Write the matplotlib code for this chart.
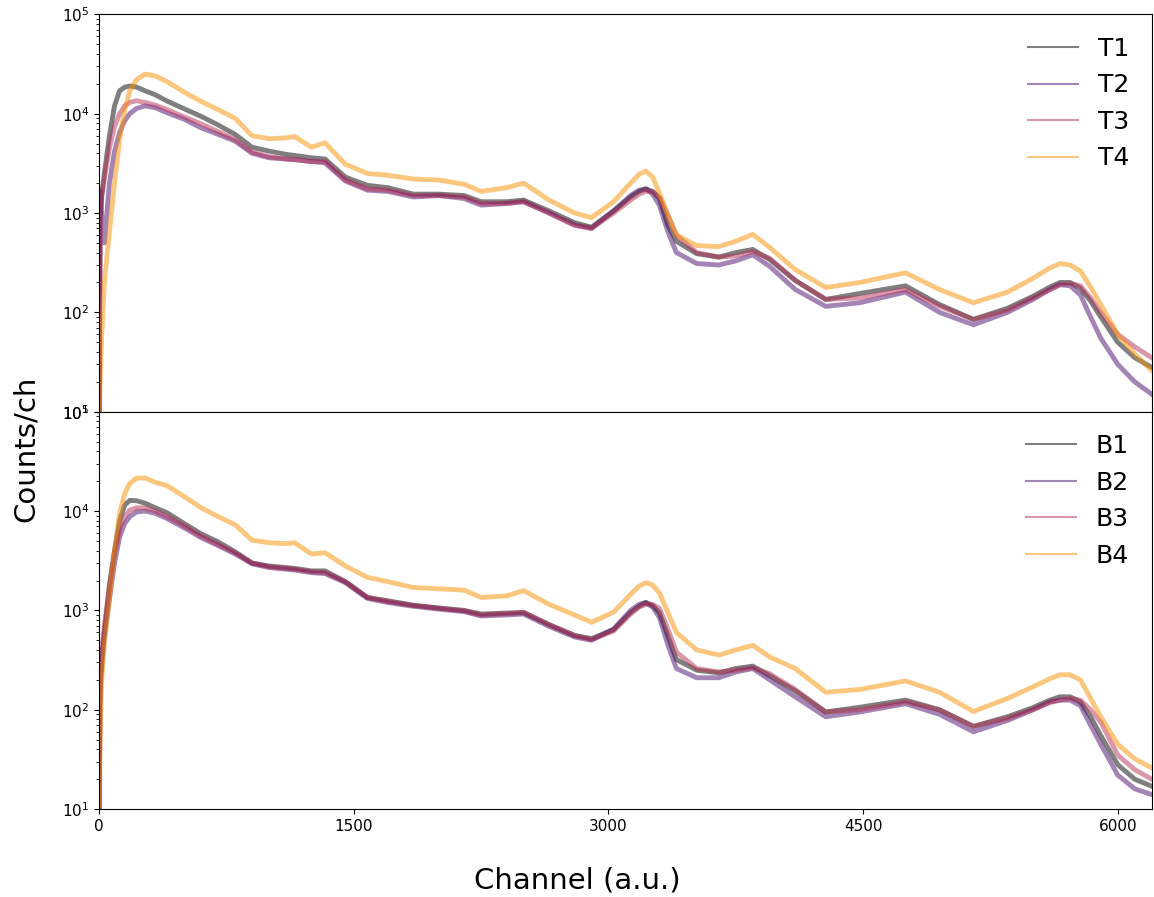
import numpy as np
import matplotlib
matplotlib.use("Agg")
import matplotlib.pyplot as plt

channels = [0, 5, 15, 30, 60, 90, 120, 150, 180, 220, 270, 330, 400, 500, 600, 700,
            800, 900, 1000, 1100, 1150, 1250, 1330, 1450, 1580, 1700, 1850, 2000,
            2150, 2250, 2400, 2500, 2650, 2800, 2900, 3030, 3130, 3180, 3220, 3260,
            3300, 3350, 3400, 3520, 3650, 3750, 3850, 3950, 4100, 4280, 4480, 4750,
            4950, 5150, 5350, 5500, 5600, 5660, 5720, 5780, 5840, 5900, 6000, 6100, 6200]

# top detectors
T1 = [10, 800, 1500, 2500, 6000, 12000, 17000, 18500, 19000, 18500, 17000, 15500, 13400,
      11200, 9400, 7700, 6200, 4600, 4200, 3900, 3800, 3600, 3500, 2300, 1900, 1800, 1550,
      1550, 1500, 1300, 1300, 1350, 1050, 800, 720, 1050, 1450, 1650, 1750, 1650,
      1400, 750, 520, 390, 360, 400, 430, 340, 210, 135, 155, 185,
      120, 85, 110, 145, 180, 200, 200, 175, 130, 90, 50, 35, 28]
T2 = [10, 1700, 900, 500, 2000, 4200, 6500, 8500, 10000, 11300, 12000, 11500, 10200,
      8800, 7200, 6200, 5300, 4000, 3600, 3500, 3450, 3300, 3200, 2100, 1700, 1650, 1450,
      1500, 1400, 1200, 1250, 1300, 1000, 760, 700, 1050, 1500, 1700, 1750, 1550,
      1200, 650, 400, 310, 300, 330, 380, 290, 170, 115, 125, 160,
      100, 75, 100, 135, 170, 190, 185, 150, 90, 55, 30, 20, 15]
T3 = [10, 1100, 1500, 2200, 4500, 7500, 10000, 12000, 13000, 13500, 13000, 12200, 11000,
      9300, 7900, 6600, 5500, 4100, 3700, 3500, 3450, 3300, 3300, 2150, 1750, 1700, 1500,
      1500, 1450, 1250, 1250, 1300, 1000, 750, 700, 1000, 1350, 1550, 1650, 1650,
      1450, 950, 600, 400, 360, 370, 410, 350, 210, 135, 140, 170,
      115, 85, 105, 140, 170, 190, 195, 185, 140, 100, 60, 45, 35]
T4 = [10, 20, 60, 200, 650, 2000, 5500, 11000, 17000, 22000, 25000, 24000, 21000,
      16500, 13300, 11000, 9000, 6000, 5600, 5700, 5900, 4600, 5100, 3100, 2500, 2400, 2200,
      2150, 1950, 1650, 1800, 2000, 1350, 1000, 900, 1300, 2000, 2450, 2650, 2300,
      1600, 950, 600, 470, 460, 520, 610, 450, 270, 178, 200, 250,
      170, 125, 160, 220, 280, 310, 300, 260, 180, 120, 60, 38, 26]

# bottom detectors
B1 = [10, 150, 280, 600, 1800, 4000, 8000, 11500, 12800, 12700, 12000, 10800, 9600,
      7500, 5900, 4900, 3900, 3000, 2800, 2700, 2650, 2500, 2500, 1950, 1350, 1250, 1130,
      1060, 1000, 920, 940, 950, 720, 560, 520, 640, 950, 1100, 1200, 1120,
      950, 550, 320, 250, 235, 260, 275, 220, 155, 95, 106, 125,
      100, 68, 85, 105, 125, 135, 135, 120, 85, 55, 28, 20, 17]
B2 = [10, 200, 350, 550, 1300, 3000, 5500, 7500, 8800, 9800, 10000, 9500, 8400,
      6800, 5400, 4500, 3700, 2950, 2700, 2600, 2550, 2400, 2350, 1900, 1320, 1200, 1100,
      1030, 970, 880, 900, 920, 690, 540, 500, 650, 1000, 1150, 1200, 1080,
      850, 450, 260, 210, 210, 240, 260, 200, 135, 85, 95, 115,
      90, 60, 78, 100, 120, 125, 125, 110, 70, 45, 22, 16, 14]
B3 = [10, 250, 400, 700, 1700, 3800, 6500, 8800, 10200, 10800, 10800, 10000, 8800,
      7100, 5600, 4600, 3800, 3000, 2750, 2650, 2600, 2450, 2400, 1950, 1350, 1230, 1120,
      1050, 990, 900, 930, 960, 720, 560, 510, 620, 920, 1080, 1150, 1150,
      1050, 650, 380, 260, 240, 250, 265, 230, 160, 95, 100, 120,
      100, 68, 82, 100, 118, 125, 130, 125, 100, 75, 35, 25, 20]
B4 = [10, 60, 200, 450, 1300, 4000, 9500, 15000, 19000, 21500, 21500, 19500, 18000,
      14000, 10800, 8800, 7300, 5100, 4800, 4700, 4800, 3700, 3800, 2800, 2150, 1950, 1700,
      1650, 1600, 1350, 1400, 1580, 1150, 900, 760, 960, 1450, 1750, 1900, 1800,
      1500, 950, 600, 400, 355, 400, 445, 340, 260, 150, 160, 195,
      150, 96, 130, 170, 205, 225, 225, 200, 130, 85, 45, 32, 26]

top_labels = ['T1', 'T2', 'T3', 'T4']
bottom_labels = ['B1', 'B2', 'B3', 'B4']
colors = ['black', '#4b0b6b', '#b93157', '#f99101']

fig, axes = plt.subplots(2, 1, sharex=True, figsize=(11.54, 8.97), dpi=100,
                         gridspec_kw={'hspace': 0})
fig.subplots_adjust(left=0.086, right=0.998, top=0.984, bottom=0.098)

for ax, series, labels in [(axes[0], [T1, T2, T3, T4], top_labels),
                           (axes[1], [B1, B2, B3, B4], bottom_labels)]:
    for y, lab, c in zip(series, labels, colors):
        ax.plot(channels, y, color=c, alpha=0.5, lw=3.5, label=lab)
    ax.set_yscale('log')
    ax.set_ylim(10, 1e5)
    ax.set_xlim(0, 6200)
    ax.tick_params(labelsize=11)
    leg = ax.legend(loc='upper right', frameon=False, fontsize=18, handlelength=2.0)
    for line in leg.get_lines():
        line.set_linewidth(1.5)

axes[1].set_xticks([0, 1500, 3000, 4500, 6000])

fig.text(0.022, 0.5, 'Counts/ch', rotation=90, va='center', ha='center', fontsize=21)
fig.text(0.5, 0.018, 'Channel (a.u.)', ha='center', va='center', fontsize=21)

fig.savefig('out.png', dpi=100)
